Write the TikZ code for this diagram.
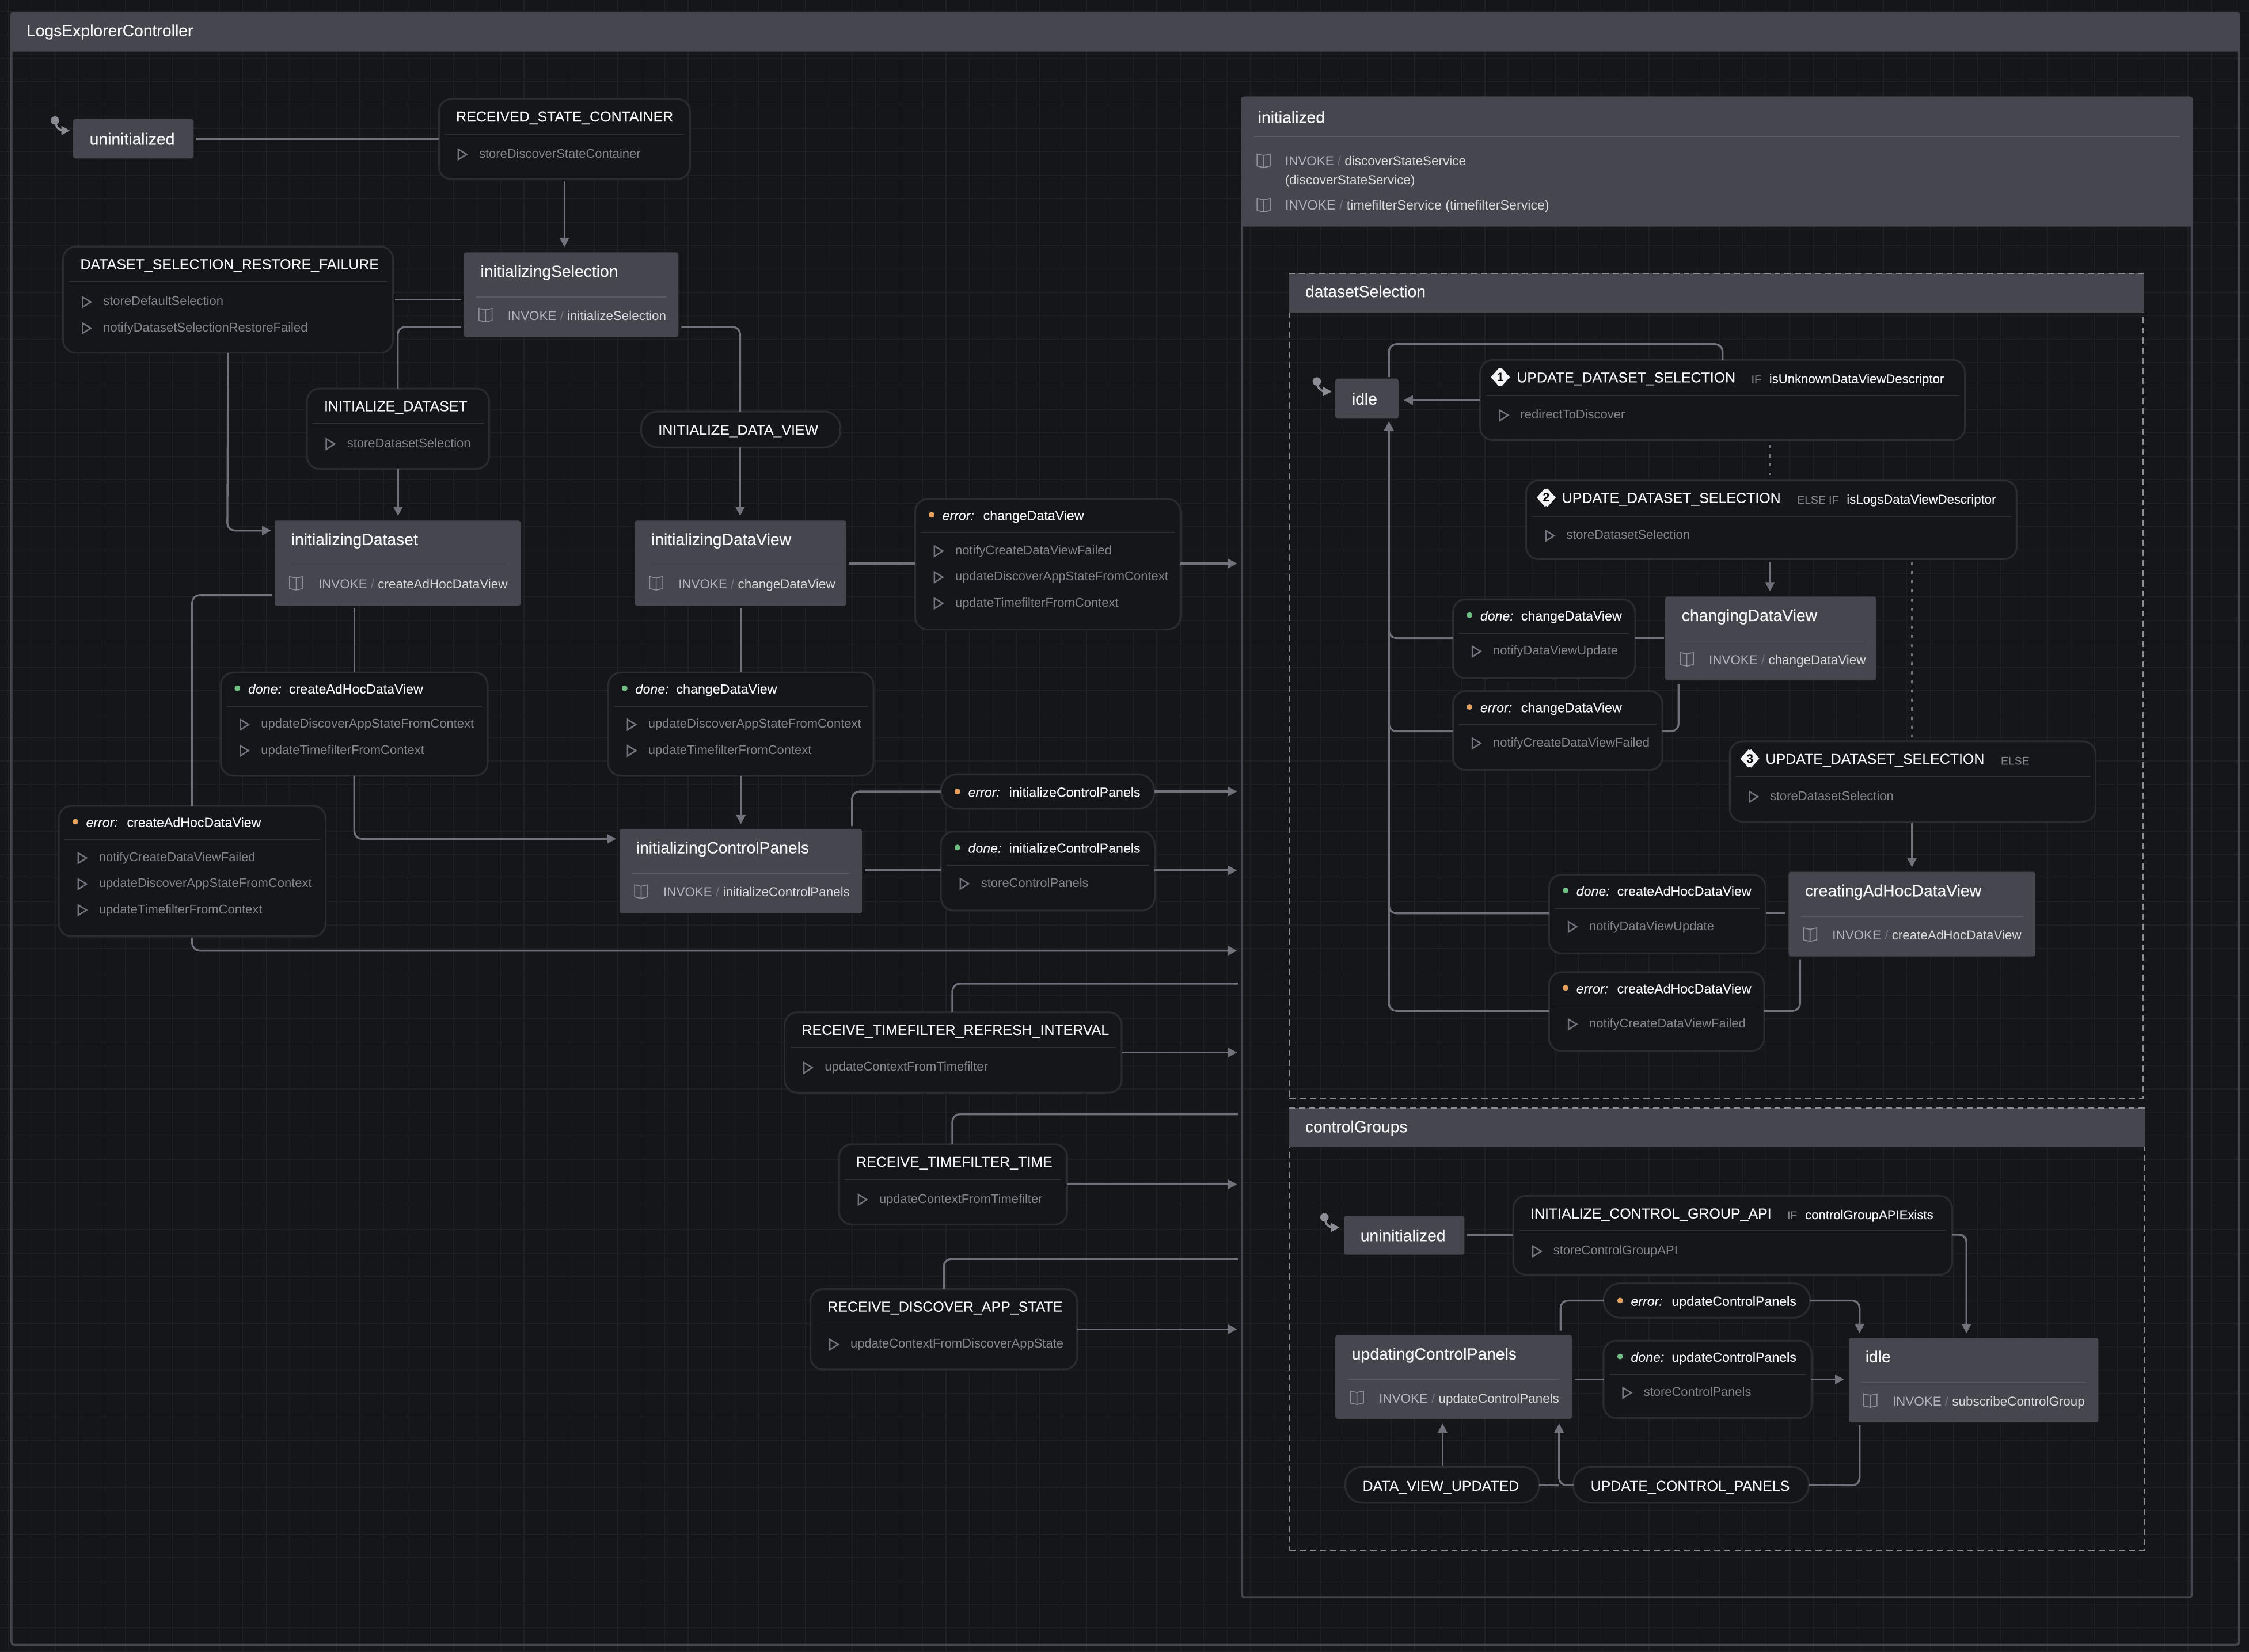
\documentclass[tikz,border=0pt]{standalone}
\usepackage{fontspec}
\setmainfont{Liberation Sans}
\newfontfamily\medfont[FakeBold=0.35]{Liberation Sans}
\newfontfamily\lightmed[FakeBold=0.15]{Liberation Sans}
\usetikzlibrary{arrows.meta,calc}
\definecolor{bgc}{HTML}{151619}
\definecolor{gridc}{HTML}{1F2024}
\definecolor{statec}{HTML}{46464F}
\definecolor{evbd}{HTML}{2A2B30}
\definecolor{linec}{HTML}{71717B}
\definecolor{rootbd}{HTML}{45454E}
\definecolor{dashc}{HTML}{8C8C94}
\definecolor{evdiv}{HTML}{2F3035}
\definecolor{stdiv}{HTML}{5A5A63}
\definecolor{acttxt}{HTML}{84848D}
\definecolor{acticon}{HTML}{74747E}
\definecolor{bookc}{HTML}{8E8E98}
\definecolor{invk}{HTML}{B4B4BC}
\definecolor{slashc}{HTML}{74747E}
\definecolor{invn}{HTML}{D8D8DE}
\definecolor{whitec}{HTML}{F4F4F6}
\definecolor{donec}{HTML}{6FBF85}
\definecolor{errc}{HTML}{E8A15C}
\definecolor{initc}{HTML}{8C8C95}
\newcommand\U{0.02491}
\tikzset{
  x=0.02491cm,y=-0.02491cm,
  txt/.style={anchor=west,inner sep=0pt,outer sep=0pt,text height=1.35ex,text depth=0.35ex},
  ttl/.style={txt,text=whitec,font=\medfont\fontsize{7.1}{9}\selectfont},
  stt/.style={txt,text=whitec,font=\medfont\fontsize{8.05}{9}\selectfont},
  smt/.style={txt,text=whitec,font=\lightmed\fontsize{6.6}{8}\selectfont},
  act/.style={txt,text=acttxt,font=\fontsize{6.25}{8}\selectfont},
  inv/.style={txt,text=invn,font=\fontsize{6.38}{8}\selectfont},
  grd/.style={txt,text=acttxt,font=\medfont\fontsize{5.5}{7}\selectfont},
  cnd/.style={txt,text=whitec,font=\lightmed\fontsize{6.3}{7}\selectfont},
  evshape/.style={draw=evbd,fill=bgc,line width=0.9pt,rounded corners=0.22cm,inner sep=0pt,outer sep=0pt},
  pillshape/.style={evshape,rounded corners=0.29cm},
  stshape/.style={fill=statec,rounded corners=0.04cm,inner sep=0pt,outer sep=0pt},
  conn/.style={draw=linec,line width=0.95pt,rounded corners=0.13cm},
  arr/.style={conn,-{Triangle[length=1.6mm,width=1.6mm]}},
  dots/.style={draw=linec,line width=0.9pt,dash pattern=on 1.5pt off 3pt},
  actico/.style={draw=acticon,line width=0.7pt,line join=miter},
  bookico/.style={draw=bookc,line width=0.45pt},
}
% box node: name, x1,y1,x2,y2, style
\newcommand\boxnode[6]{%
  \pgfmathsetmacro\bw{(#4-#2)*\U}\pgfmathsetmacro\bh{(#5-#3)*\U}%
  \node[#6,minimum width=\bw cm,minimum height=\bh cm] (#1) at ({(#2+#4)/2},{(#3+#5)/2}) {};}
\newcommand\playico[2]{\draw[actico] (#1-2.8,#2-2.9) -- (#1+3,#2+0.6) -- (#1-2.8,#2+4.3) -- cycle;}
\newcommand\bookicon[2]{\draw[bookico] (#1,#2-3.6) -- (#1-4.6,#2-4.6) -- (#1-4.6,#2+3.8) -- (#1,#2+4.8) -- (#1+4.6,#2+3.8) -- (#1+4.6,#2-4.6) -- (#1,#2-3.6) -- (#1,#2+4.8);}
% event box: name x1 y1 x2 y2 title actions
\newcommand\evt[7][]{%
  \boxnode{#2}{#3}{#4}{#5}{#6}{evshape}
  \node[ttl] (#2-t) at (#3+12,#4+12) {#7};
  \draw[evdiv,line width=0.5pt] (#3+4,#4+24.5) -- (#5-4,#4+24.5);
  \foreach \a [count=\i] in {#1}{%
    \pgfmathsetmacro\ay{#4+38+(\i-1)*18.2}
    \playico{#3+16.3}{\ay}
    \node[act] (#2-a\i) at (#3+28,\ay-0.7) {\a};}}
% pill event: name x1 y1 x2 y2
\newcommand\pill[5]{\boxnode{#1}{#2}{#3}{#4}{#5}{pillshape}}
% done/error title: name x1 y kind colour source
\newcommand\srct[6]{%
  \fill[#5] (#2+11.5,#3) circle (0.05cm);
  \node[smt] (#1-k) at (#2+19,#3) {\itshape #4:};
  \node[smt] (#1-t) at (#2+47.5,#3) {#6};}
\newcommand\srcb[9]{% name x1 y1 x2 y2 kind colour source actions
  \boxnode{#1}{#2}{#3}{#4}{#5}{evshape}
  \srct{#1}{#2}{#3+11}{#6}{#7}{#8}
  \draw[evdiv,line width=0.5pt] (#2+4,#3+23.5) -- (#4-4,#3+23.5);
  \foreach \a [count=\i] in {#9}{%
    \pgfmathsetmacro\ay{#3+35.7+(\i-1)*18.2}
    \playico{#2+16.3}{\ay}
    \node[act] (#1-a\i) at (#2+28,\ay-0.7) {\a};}}
\newcommand\invokerow[4]{% name x y service
  \bookicon{#2-15.5}{#3}
  \node[inv] (#1) at (#2,#3) {{\color{invk}INVOKE} {\color{slashc}/} #4};}
% state box: name x1 y1 x2 y2 title service
\newcommand\st[7]{%
  \boxnode{#1}{#2}{#3}{#4}{#5}{stshape}
  \node[stt] (#1-t) at (#2+11.5,#3+13.4) {#6};
  \draw[stdiv,line width=0.5pt] (#2+8.5,#3+31) -- (#4-8.5,#3+31);
  \invokerow{#1-i}{#2+30.5}{#3+43.7}{#7}}
% plain state: name x1 y1 x2 y2 title
\newcommand\plain[6]{%
  \boxnode{#1}{#2}{#3}{#4}{#5}{stshape}
  \node[stt] (#1-t) at (#2+11.5,{(#3+#5)/2+0.4}) {#6};}
% initial marker next to a node
\newcommand\initmark[2]{% x y(dot)
  \fill[initc] (#1,#2) circle (0.073cm);
  \draw[draw=initc,line width=1.05pt,rounded corners=0.1cm,-{Triangle[length=1.5mm,width=1.5mm]}] (#1,#2) -- (#1+1.8,#2+7) -- (#1+10.5,#2+7);}
\newcommand\dia[3]{% x y digit
  \fill[whitec] (#1-6.6,#2) -- (#1-1,#2-6.3) arc (135:45:1.4) -- (#1+6.6,#2) -- (#1+1,#2+6.3) arc (-45:-135:1.4) -- cycle;
  \node[inner sep=0pt,text=black,font=\fontsize{6}{7}\selectfont\bfseries] (dg#3) at (#1,#2) {#3};}
\begin{document}
\begin{tikzpicture}
\useasboundingbox (0,0) rectangle (1568,1152);
\fill[bgc] (0,0) rectangle (1568,1152);
\foreach \k in {0,...,96}{\draw[gridc,line width=0.4pt] ({5.87+16.34*\k},0) -- ({5.87+16.34*\k},1152);}
\foreach \k in {0,...,70}{\draw[gridc,line width=0.4pt] (0,{7.83+16.34*\k}) -- (1568,{7.83+16.34*\k});}
% root
\boxnode{root}{8}{9}{1561}{1147}{draw=rootbd,line width=1pt,rounded corners=0.04cm,inner sep=0pt}
\fill[statec,rounded corners=0.04cm] (root.north west) rectangle (root.north east |- 0,36);
\node[stt] (root-t) at (18.5,21.5) {LogsExplorerController};
% initialized
\boxnode{init}{866}{68}{1528}{1114}{draw=rootbd,line width=1pt,rounded corners=0.04cm,inner sep=0pt}
\fill[statec,rounded corners=0.04cm] (init.north west) rectangle (init.north east |- 0,158);
\node[stt] (init-t) at (877,82) {initialized};
\draw[stdiv,line width=0.5pt] (874.5,95) -- (1520,95);
\bookicon{881}{112}
\node[inv] (init-i1) at (896,111.7) {{\color{invk}INVOKE} {\color{slashc}/} discoverStateService};
\node[inv] (init-i2) at (896,125) {(discoverStateService)};
\bookicon{881}{143}
\node[inv,font=\fontsize{6.6}{8}\selectfont] (init-i3) at (896,142.6) {{\color{invk}INVOKE} {\color{slashc}/} timefilterService (timefilterService)};
% datasetSelection
\boxnode{dss}{899}{191}{1494}{766}{draw=dashc,line width=0.5pt,dash pattern=on 3pt off 2pt,inner sep=0pt}
\fill[statec] (dss.north west) rectangle (dss.north east |- 0,218);
\draw[dashc,line width=0.5pt,dash pattern=on 3pt off 2pt] (dss.north west) -- (dss.north east);
\node[stt] (dss-t) at (910,203.5) {datasetSelection};
% controlGroups
\boxnode{cg}{899}{773}{1495}{1081}{draw=dashc,line width=0.5pt,dash pattern=on 3pt off 2pt,inner sep=0pt}
\fill[statec] (cg.north west) rectangle (cg.north east |- 0,800);
\draw[dashc,line width=0.5pt,dash pattern=on 3pt off 2pt] (cg.north west) -- (cg.north east);
\node[stt] (cg-t) at (910,786) {controlGroups};
% left side states
\plain{uninit}{51}{83}{135}{110.5}{uninitialized}
\st{selst}{323.5}{176}{473}{235}{initializingSelection}{initializeSelection}
\st{dsst}{191.5}{363}{363}{422.5}{initializingDataset}{createAdHocDataView}
\st{dvst}{442.5}{363}{590}{422.5}{initializingDataView}{changeDataView}
\st{cpst}{432}{578}{601}{637}{initializingControlPanels}{initializeControlPanels}
% left side events
\evt[storeDiscoverStateContainer]{rsc}{306}{69}{481}{125}{RECEIVED\_STATE\_CONTAINER}
\evt[storeDefaultSelection,notifyDatasetSelectionRestoreFailed]{dsrf}{44}{172}{274}{246}{DATASET\_SELECTION\_RESTORE\_FAILURE}
\evt[storeDatasetSelection]{initds}{214}{271}{341}{327}{INITIALIZE\_DATASET}
\pill{initdv}{447}{287}{586}{312}
\node[ttl] (initdv-t) at (459,299.5) {INITIALIZE\_DATA\_VIEW};
\srcb{errdv}{638}{348}{823}{439}{error}{errc}{changeDataView}{notifyCreateDataViewFailed,updateDiscoverAppStateFromContext,updateTimefilterFromContext}
\srcb{doneah}{154}{469}{340}{541}{done}{donec}{createAdHocDataView}{updateDiscoverAppStateFromContext,updateTimefilterFromContext}
\srcb{donedv}{424}{469}{609}{541}{done}{donec}{changeDataView}{updateDiscoverAppStateFromContext,updateTimefilterFromContext}
\srcb{errah}{41}{562}{227}{653}{error}{errc}{createAdHocDataView}{notifyCreateDataViewFailed,updateDiscoverAppStateFromContext,updateTimefilterFromContext}
\pill{errcp}{656}{540}{805}{564}
\srct{errcp}{656}{552}{error}{errc}{initializeControlPanels}
\srcb{donecp}{656}{580}{805}{635}{done}{donec}{initializeControlPanels}{storeControlPanels}
\evt[updateContextFromTimefilter]{rtri}{547}{706}{782}{762}{RECEIVE\_TIMEFILTER\_REFRESH\_INTERVAL}
\evt[updateContextFromTimefilter]{rtt}{585}{798}{744}{854}{RECEIVE\_TIMEFILTER\_TIME}
\evt[updateContextFromDiscoverAppState]{rdas}{565}{899}{751}{955}{RECEIVE\_DISCOVER\_APP\_STATE}
% dataset selection contents
\plain{idle}{931}{264}{975}{292}{idle}
\st{cdvst}{1161}{416}{1308}{474.5}{changingDataView}{changeDataView}
\st{cahst}{1247}{608}{1419}{667}{creatingAdHocDataView}{createAdHocDataView}
\boxnode{up1}{1032}{251}{1370}{307}{evshape}
\dia{1046}{263}{1}
\node[ttl] (up1-t) at (1057.5,263) {UPDATE\_DATASET\_SELECTION};
\node[grd] (up1-g) at (1221,263.5) {IF};
\node[cnd] (up1-c) at (1233.5,263.5) {isUnknownDataViewDescriptor};
\draw[evdiv,line width=0.5pt] (1036,276) -- (1366,276);
\playico{1048.5}{289}
\node[act] (up1-a) at (1060,288.3) {redirectToDiscover};
\boxnode{up2}{1064}{335}{1406}{390}{evshape}
\dia{1078}{347}{2}
\node[ttl] (up2-t) at (1089,347) {UPDATE\_DATASET\_SELECTION};
\node[grd] (up2-g) at (1253,347.5) {ELSE IF};
\node[cnd] (up2-c) at (1287.5,347.5) {isLogsDataViewDescriptor};
\draw[evdiv,line width=0.5pt] (1068,360) -- (1402,360);
\playico{1080.5}{373}
\node[act] (up2-a) at (1092,372.3) {storeDatasetSelection};
\boxnode{up3}{1206}{517}{1461}{573}{evshape}
\dia{1220}{529}{3}
\node[ttl] (up3-t) at (1231,529) {UPDATE\_DATASET\_SELECTION};
\node[grd] (up3-g) at (1395,529.5) {ELSE};
\draw[evdiv,line width=0.5pt] (1210,541.5) -- (1457,541.5);
\playico{1222.5}{555}
\node[act] (up3-a) at (1234,554.3) {storeDatasetSelection};
\srcb{donecdv}{1013}{418}{1140}{473}{done}{donec}{changeDataView}{notifyDataViewUpdate}
\srcb{errcdv}{1013}{482}{1159}{537}{error}{errc}{changeDataView}{notifyCreateDataViewFailed}
\srcb{donecah}{1080}{610}{1231}{665}{done}{donec}{createAdHocDataView}{notifyDataViewUpdate}
\srcb{errcah}{1080}{678}{1230}{733}{error}{errc}{createAdHocDataView}{notifyCreateDataViewFailed}
% control groups contents
\plain{uninitb}{937}{848}{1021}{875}{uninitialized}
\st{ucpst}{931}{931}{1096}{989.5}{updatingControlPanels}{updateControlPanels}
\st{idleb}{1289}{933}{1463}{992}{idle}{subscribeControlGroup}
\boxnode{icg}{1055}{834}{1361}{889}{evshape}
\node[ttl] (icg-t) at (1067,846) {INITIALIZE\_CONTROL\_GROUP\_API};
\node[grd] (icg-g) at (1246,846.5) {IF};
\node[cnd] (icg-c) at (1258.5,846.5) {controlGroupAPIExists};
\draw[evdiv,line width=0.5pt] (1059,858) -- (1357,858);
\playico{1071.5}{872}
\node[act] (icg-a) at (1083,871.3) {storeControlGroupAPI};
\pill{errucp}{1118}{895}{1262}{919}
\srct{errucp}{1118}{907}{error}{errc}{updateControlPanels}
\srcb{doneucp}{1118}{935}{1263}{989}{done}{donec}{updateControlPanels}{storeControlPanels}
\pill{dvu}{938}{1023}{1073}{1048}
\node[ttl] (dvu-t) at (950,1036) {DATA\_VIEW\_UPDATED};
\pill{ucp}{1097}{1023}{1261}{1048}
\node[ttl] (ucp-t) at (1109,1036) {UPDATE\_CONTROL\_PANELS};
% initial marks
\initmark{38.3}{84}
\initmark{918}{266}
\initmark{923.4}{849}
% connectors outer
\coordinate (lx) at (862.5,0);
\coordinate (ix) at (863,0);
\draw[conn,shorten <=0.05cm] (uninit.east) -- (rsc.west |- uninit.east);
\draw[arr,shorten <=0.03cm,shorten >=0.09cm] (rsc.south) -- (rsc.south |- selst.north);
\draw[conn,shorten <=0.03cm,shorten >=0.05cm] (dsrf.east |- 0,209) -- (selst.west |- 0,209);
\draw[conn,shorten <=0.05cm] (selst.west |- 0,228) -- (277.3,228) -- (277.3,271);
\draw[arr,shorten >=0.08cm] (initds.south) -- (initds.south |- dsst.north);
\draw[conn,shorten <=0.05cm] (selst.east |- 0,228) -- (516,228) -- (516,287);
\draw[arr,shorten >=0.08cm] (516,312) -- (516,363);
\draw[arr,shorten >=0.06cm] (dsrf.south) -- (158.5,370) -- (dsst.west |- 0,370);
\draw[conn,shorten <=0.05cm] (dsst.south -| doneah.north) -- (doneah.north);
\draw[arr,shorten >=0.06cm] (doneah.south) -- (247,585) -- (cpst.west |- 0,585);
\draw[conn,shorten <=0.05cm] (dsst.west |- 0,415) -- (134,415) -- (134,562);
\draw[arr] (134,654) -- (134,663) -- (lx |- 0,663);
\draw[conn,shorten <=0.05cm] (dvst.south -| donedv.north) -- (donedv.north);
\draw[arr,shorten >=0.08cm] (donedv.south) -- (donedv.south |- cpst.north);
\draw[conn,shorten <=0.05cm] (dvst.east |- 0,393) -- (errdv.west |- 0,393);
\draw[arr] (errdv.east |- 0,393) -- (lx |- 0,393);
\draw[conn,shorten <=0.05cm] (594,578) -- (594,552) -- (errcp.west |- 0,552);
\draw[arr] (errcp.east) -- (lx |- errcp.east);
\draw[conn,shorten <=0.05cm] (cpst.east |- 0,607) -- (donecp.west |- 0,607);
\draw[arr] (donecp.east |- 0,607) -- (lx |- 0,607);
\draw[conn] (ix |- 0,686) -- (664,686) -- (664,706);
\draw[arr] (rtri.east) -- (lx |- rtri.east);
\draw[conn] (ix |- 0,777) -- (664,777) -- (664,798);
\draw[arr] (rtt.east) -- (lx |- rtt.east);
\draw[conn] (ix |- 0,878) -- (658,878) -- (658,899);
\draw[arr] (rdas.east) -- (lx |- rdas.east);
% dataset selection connectors
\draw[arr,shorten >=0.09cm] (up1.west |- 0,279) -- (idle.east |- 0,279);
\draw[conn] (968.3,263) -- (968.3,240) -- (1201,240) -- (1201,251);
\draw[dots] (1234,310.5) -- (1234,333);
\draw[arr,shorten <=0.03cm,shorten >=0.09cm] (1234,390.5) -- (1234,416);
\draw[dots] (1333,392) -- (1333,514);
\draw[arr,shorten <=0.03cm,shorten >=0.08cm] (1333,573) -- (1333,608);
\draw[conn,shorten <=0.02cm] (cdvst.west |- 0,445) -- (donecdv.east |- 0,445);
\draw[arr,shorten >=0.05cm] (donecdv.west |- 0,445) -- (968.3,445) -- (968.3,292);
\draw[conn] (1170.3,477) -- (1170.3,510) -- (errcdv.east |- 0,510);
\draw[arr,shorten >=0.05cm] (errcdv.west |- 0,510) -- (968.3,510) -- (968.3,292);
\draw[conn,shorten <=0.05cm] (cahst.west |- 0,637) -- (donecah.east |- 0,637);
\draw[arr,shorten >=0.05cm] (donecah.west |- 0,637) -- (968.3,637) -- (968.3,292);
\draw[conn] (1255,669) -- (1255,705) -- (errcah.east |- 0,705);
\draw[arr,shorten >=0.05cm] (errcah.west |- 0,705) -- (968.3,705) -- (968.3,292);
% control group connectors
\draw[conn,shorten <=0.05cm] (uninitb.east) -- (icg.west |- uninitb.east);
\draw[arr,shorten >=0.08cm] (icg.east |- 0,861) -- (1371,861) -- (1371,933);
\draw[conn] (1088,928) -- (1088,907) -- (errucp.west);
\draw[arr,shorten >=0.08cm] (errucp.east) -- (1296.5,907) -- (1296.5,933);
\draw[conn,shorten <=0.05cm] (ucpst.east |- 0,962) -- (doneucp.west |- 0,962);
\draw[arr,shorten >=0.08cm] (doneucp.east |- 0,962) -- (idleb.west |- 0,962);
\draw[arr,shorten <=0.02cm,shorten >=0.08cm] (1005.7,1023) -- (1005.7,989.5);
\draw[conn] (dvu.east) -- (1087,1036);
\draw[arr,shorten >=0.08cm] (ucp.west) -- (1087,1036) -- (1087,989.5);
\draw[conn,shorten <=0.05cm] (1296.5,992) -- (1296.5,1036) -- (ucp.east);
\end{tikzpicture}
\end{document}
